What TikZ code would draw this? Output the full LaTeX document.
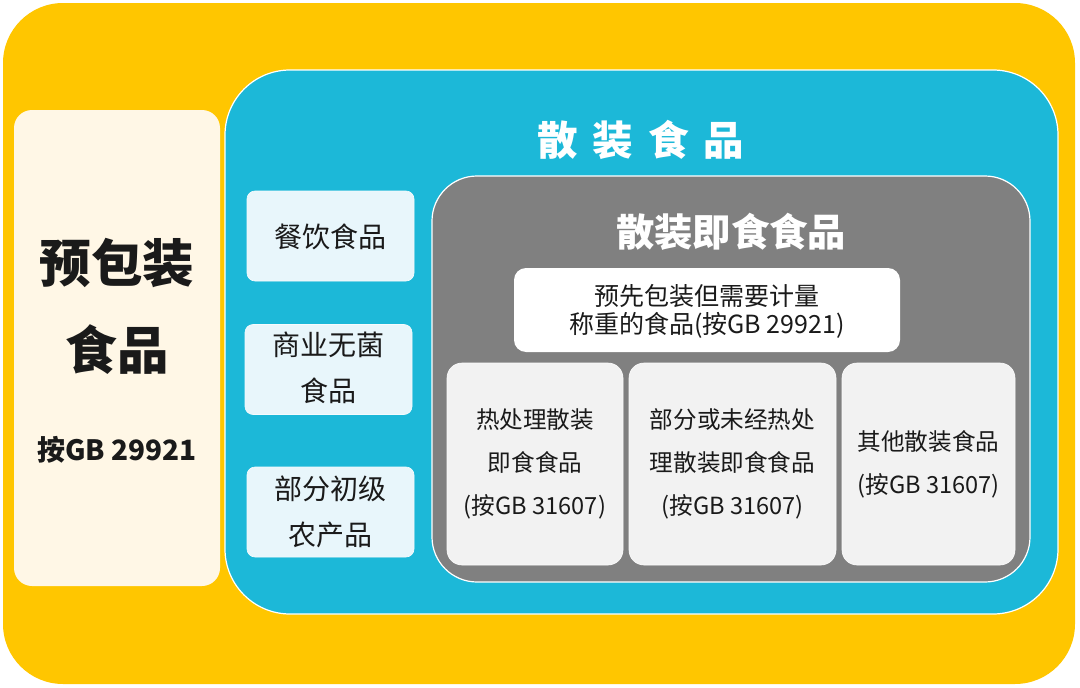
\documentclass[tikz,border=0pt]{standalone}
\usepackage{fontspec}
\newfontfamily\cjk{Noto Sans CJK SC}
\definecolor{cyellow}{HTML}{FFC600}
\definecolor{cblue}{HTML}{1CB8D8}
\definecolor{ccream}{HTML}{FFF7E6}
\definecolor{clight}{HTML}{E8F6FB}
\definecolor{cgray}{HTML}{808080}
\definecolor{clgray}{HTML}{F2F2F2}
\definecolor{ctext}{HTML}{1A1A1A}
\tikzset{
  panel/.style={draw=white, line width=1.2pt, inner sep=0pt},
  txt/.style={inner sep=0pt, align=center, text=ctext, font=\cjk},
}
\begin{document}
\begin{tikzpicture}[x=1pt,y=-1pt]
\useasboundingbox (0,0) rectangle (1080,688);
% outer yellow
\node[panel, draw=none, fill=cyellow, rounded corners=60pt, minimum width=1072pt, minimum height=681pt] (outer) at (539,343.5) {};
% cream left
\node[panel, draw=none, fill=ccream, rounded corners=18pt, minimum width=206pt, minimum height=476pt] (pre) at (117,348) {};
\node[txt, font=\cjk\bfseries\fontsize{51.5}{60}\selectfont] (pre1) at (117,263) {预包装};
\node[txt, font=\cjk\bfseries\fontsize{51.5}{60}\selectfont] (pre2) at (117,350) {食品};
\node[txt, font=\cjk\bfseries\fontsize{28}{32}\selectfont] (pre3) at (117,450) {按GB 29921};
% blue
\node[panel, fill=cblue, rounded corners=65pt, minimum width=833pt, minimum height=544pt] (bulk) at (641.5,342) {};
\node[txt, text=white, font=\cjk\bfseries\fontsize{40.5}{48}\selectfont] (bulkt) at (641,140) {散\hspace{15pt}装\hspace{15pt}食\hspace{15pt}品};
% left small boxes
\node[panel, draw=white!60!clight, line width=0.6pt, fill=clight, rounded corners=8pt, minimum width=167pt, minimum height=90pt] (cy) at (330.5,236) {};
\node[txt, font=\cjk\fontsize{28}{46}\selectfont] (cyt) at (330.5,237) {餐饮食品};
\node[panel, draw=white!60!clight, line width=0.6pt, fill=clight, rounded corners=8pt, minimum width=167pt, minimum height=90pt] (sy) at (328.5,369.5) {};
\node[txt, font=\cjk\fontsize{28}{46}\selectfont] (syt) at (328.5,368) {商业无菌\\食品};
\node[panel, draw=white!60!clight, line width=0.6pt, fill=clight, rounded corners=8pt, minimum width=167pt, minimum height=90pt] (ny) at (330.5,512) {};
\node[txt, font=\cjk\fontsize{28}{46}\selectfont] (nyt) at (330.5,512) {部分初级\\农产品};
% gray
\node[panel, fill=cgray, rounded corners=45pt, minimum width=598pt, minimum height=406pt] (rte) at (731,379) {};
\node[txt, text=white, font=\cjk\bfseries\fontsize{38.3}{44}\selectfont] (rtet) at (731,232) {散装即食食品};
% white box
\node[panel, draw=none, fill=white, rounded corners=12pt, minimum width=386pt, minimum height=84pt] (wb) at (707,310) {};
\node[txt, font=\cjk\fontsize{25}{28}\selectfont] (wbt) at (707,311) {预先包装但需要计量\\称重的食品(按GB 29921)};
% three boxes
\node[panel, draw=white!70!clgray, line width=0.6pt, fill=clgray, rounded corners=15pt, minimum width=176pt, minimum height=202pt] (b1) at (535,464) {};
\node[txt, font=\cjk\fontsize{23.6}{43}\selectfont] (b1t) at (535,464) {热处理散装\\即食食品\\(按GB 31607)};
\node[panel, draw=white!70!clgray, line width=0.6pt, fill=clgray, rounded corners=15pt, minimum width=207pt, minimum height=202pt] (b2) at (732.5,464) {};
\node[txt, font=\cjk\fontsize{23.6}{43}\selectfont] (b2t) at (732.5,464) {部分或未经热处\\理散装即食食品\\(按GB 31607)};
\node[panel, draw=white!70!clgray, line width=0.6pt, fill=clgray, rounded corners=15pt, minimum width=173pt, minimum height=202pt] (b3) at (928.5,464) {};
\node[txt, font=\cjk\fontsize{23.6}{43}\selectfont] (b3t) at (928.5,464) {其他散装食品\\(按GB 31607)};
\end{tikzpicture}
\end{document}
